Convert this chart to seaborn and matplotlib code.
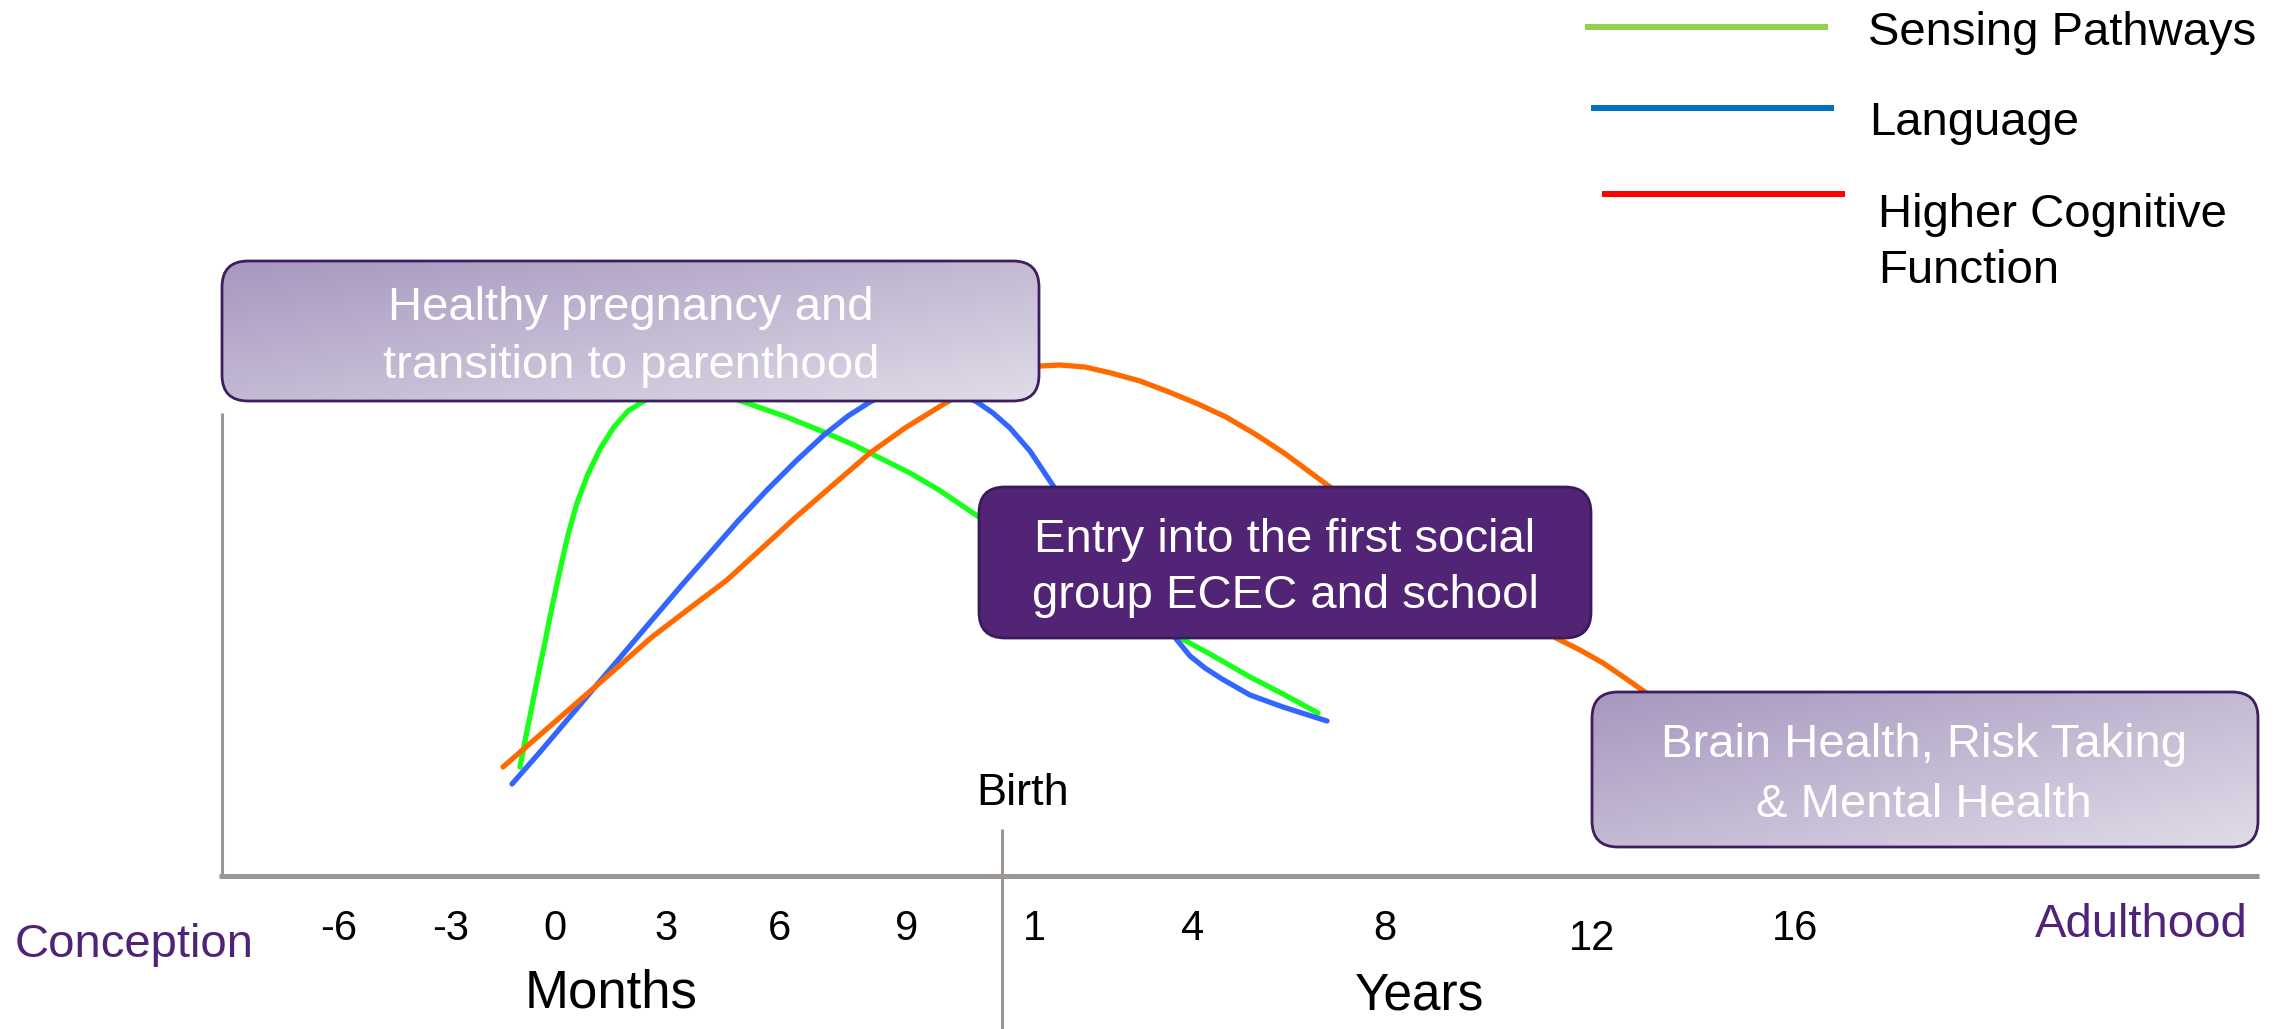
import numpy as np
import pandas as pd
import matplotlib
matplotlib.use("Agg")
import matplotlib.pyplot as plt
from matplotlib.patches import FancyBboxPatch
from matplotlib.colors import LinearSegmentedColormap
import seaborn as sns

# ---------------------------------------------------------------------------
# Data: developmental curves (position along the life-course timeline,
# relative development level above the baseline)
# ---------------------------------------------------------------------------
sensing_x = [520, 526, 532, 538, 545, 552, 560, 568, 577, 588, 600, 614, 628, 644,
             665, 690, 715, 744, 784, 824, 854, 882, 910, 939, 979, 1030, 1080, 1130,
             1184, 1210, 1250, 1283, 1318]
sensing_y = [109, 140, 170, 200, 234, 269, 306, 341, 373, 402, 427, 449, 465, 475,
             486, 490, 484, 474, 460, 444, 431, 417, 403, 386, 359, 321, 286, 259,
             236, 222, 199, 182, 163]

language_x = [512, 540, 568, 595, 624, 652, 681, 710, 738, 767, 796, 824, 848, 870,
              897, 922, 948, 977, 993, 1010, 1030, 1054, 1090, 1130, 1160, 1177, 1190,
              1205, 1222, 1250, 1283, 1327]
language_y = [92, 124, 157, 189, 223, 256, 290, 323, 355, 386, 415, 441, 460, 474,
              488, 493, 488, 474, 463, 448, 425, 389, 341, 291, 256, 236, 220,
              208, 197, 181, 169, 155]

cognitive_x = [503, 549, 595, 652, 690, 727, 760, 796, 833, 870, 905, 939, 975, 1000,
               1020, 1040, 1060, 1085, 1111, 1140, 1169, 1198, 1226, 1255, 1284,
               1307, 1330, 1400, 1480, 1556, 1580, 1603, 1625, 1645, 1665]
cognitive_y = [109, 149, 189, 239, 268, 296, 326, 359, 391, 423, 448, 469, 491, 503,
               508, 510, 511, 509, 503, 495, 484, 472, 459, 442, 423,
               406, 389, 341, 286, 238, 226, 213, 198, 184, 170]

series_names = ["Sensing Pathways", "Language", "Higher Cognitive Function"]
curve_colors = ["#1aff1a", "#3366ff", "#ff6a00"]
legend_colors = ["#92d050", "#0070c0", "#ff0000"]
legend_lines = [["Sensing Pathways"], ["Language"], ["Higher Cognitive", "Function"]]

# Timeline tick labels
month_labels = ["-6", "-3", "0", "3", "6", "9"]
month_pos = [339, 451, 555, 666, 779, 907]
year_labels = ["1", "4", "8", "12", "16"]
year_pos = [1034, 1193, 1385, 1592, 1795]

# Life-stage boxes
stage_texts = [
    ["Healthy pregnancy and", "transition to parenthood"],
    ["Entry into the first social", "group ECEC and school"],
    ["Brain Health, Risk Taking", "& Mental Health"],
]

# ---------------------------------------------------------------------------
sns.set_style("white")
plt.rcParams["font.family"] = ["Liberation Sans", "DejaVu Sans"]

W, H = 2286, 1029
fig = plt.figure(figsize=(W / 100, H / 100), dpi=100)
ax = fig.add_axes([0, 0, 1, 1])

frames = []
for name, xs, ys in zip(series_names,
                        [sensing_x, language_x, cognitive_x],
                        [sensing_y, language_y, cognitive_y]):
    frames.append(pd.DataFrame({"x": xs, "y": ys, "series": name}))
df = pd.concat(frames, ignore_index=True)

sns.lineplot(data=df, x="x", y="y", hue="series", hue_order=series_names,
             palette=curve_colors, sort=False, estimator=None, legend=False,
             linewidth=3.8, ax=ax, zorder=2)
for ln in ax.get_lines():
    ln.set_solid_capstyle("round")
    ln.set_solid_joinstyle("round")

# Axes of the timeline
axis_grey = "#9b9692"
ax.plot([219, 2259], [0, 0], color=axis_grey, lw=3.6, solid_capstyle="butt", zorder=1)
ax.plot([222, 222], [0, 463], color=axis_grey, lw=2.2, solid_capstyle="butt", zorder=1)
ax.plot([1002, 1002], [47, -153], color=axis_grey, lw=2.2, solid_capstyle="butt", zorder=1)

# Stage boxes
grad_cmap = LinearSegmentedColormap.from_list("lav", ["#a797bf", "#e0dce8"])
boxes = [
    dict(x0=222, x1=1039, y0=475, y1=615, kind="grad", baselines=[556, 498], cx=631),
    dict(x0=979, x1=1591, y0=238, y1=389, kind="solid", baselines=[324, 268], cx=1285),
    dict(x0=1592, x1=2258, y0=29, y1=184, kind="grad", baselines=[119, 59], cx=1924),
]
for b, lines in zip(boxes, stage_texts):
    w = b["x1"] - b["x0"]
    h = b["y1"] - b["y0"]
    if b["kind"] == "grad":
        patch = FancyBboxPatch((b["x0"], b["y0"]), w, h,
                               boxstyle="round,pad=0,rounding_size=26",
                               facecolor="none", edgecolor="#3d1e5e", lw=2.0, zorder=4)
        ax.add_patch(patch)
        u = np.linspace(0, 1, 300)[None, :]
        v = np.linspace(0, 1, 100)[:, None]
        grad = 0.5 * u + 0.5 * v
        im = ax.imshow(grad, cmap=grad_cmap, extent=[b["x0"], b["x1"], b["y0"], b["y1"]],
                       origin="upper", aspect="auto", zorder=3, interpolation="bilinear")
        im.set_clip_path(patch)
    else:
        patch = FancyBboxPatch((b["x0"], b["y0"]), w, h,
                               boxstyle="round,pad=0,rounding_size=26",
                               facecolor="#522475", edgecolor="#3b1a5c", lw=2.0, zorder=4)
        ax.add_patch(patch)
    for line, base in zip(lines, b["baselines"]):
        ax.text(b["cx"], base, line, ha="center", va="baseline", color="white",
                fontsize=34, zorder=5)

# Tick labels
for lab, pos in zip(month_labels + year_labels, month_pos + year_pos):
    base = -74 if lab == "12" else -64
    ax.text(pos, base, lab, ha="center", va="baseline", fontsize=30, color="black")

purple = "#4f2478"
ax.text(134, -81, "Conception", ha="center", va="baseline", fontsize=34, color=purple)
ax.text(2141, -61, "Adulthood", ha="center", va="baseline", fontsize=34, color=purple)
ax.text(611, -131, "Months", ha="center", va="baseline", fontsize=38, color="black")
ax.text(1420, -134, "Years", ha="center", va="baseline", fontsize=37, color="black")
ax.text(1023, 71, "Birth", ha="center", va="baseline", fontsize=32.5, color="black")

# Legend
leg_line_x = [(1585, 1828), (1591, 1834), (1602, 1845)]
leg_line_y = [849, 768, 682]
leg_text_x = [1868, 1869, 1878]
leg_text_base = [[831], [741], [649, 593]]
for (lx0, lx1), ly, col, labs, tx, tbs in zip(leg_line_x, leg_line_y, legend_colors,
                                              legend_lines, leg_text_x, leg_text_base):
    ax.plot([lx0, lx1], [ly, ly], color=col, lw=4.3, solid_capstyle="butt")
    for lab, tb in zip(labs, tbs):
        ax.text(tx, tb, lab, ha="left", va="baseline", fontsize=34, color="black")

ax.set_xlim(0, W)
ax.set_ylim(876 - H, 876)
ax.set_axis_off()

fig.savefig("out.png", dpi=100)
